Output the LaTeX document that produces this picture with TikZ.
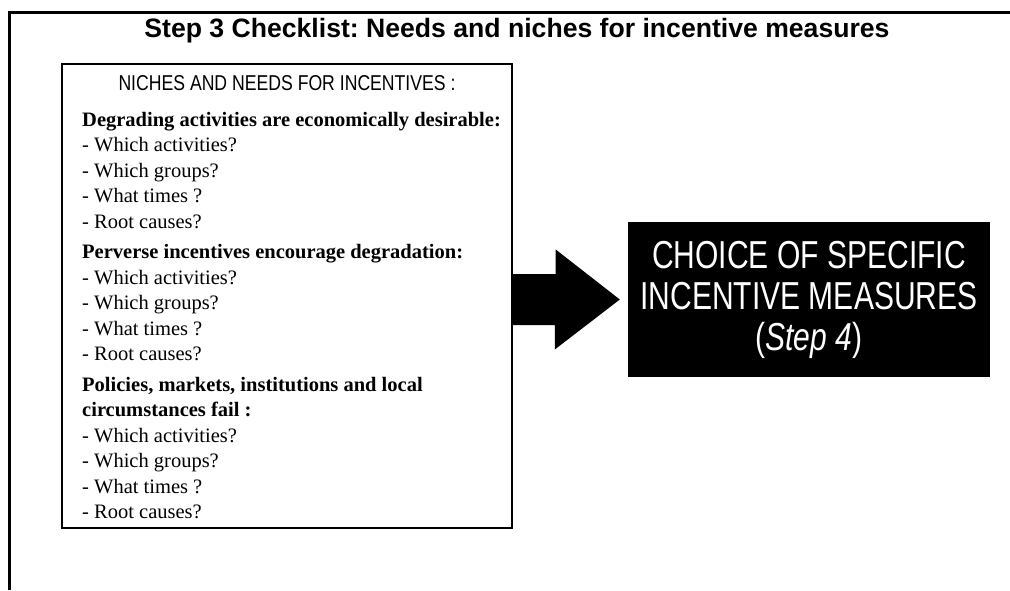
\documentclass[tikz,border=0pt]{standalone}
\usepackage{fontspec}
\setmainfont{Liberation Serif}
\newfontfamily\sansfont{Liberation Sans}
\newfontfamily\narrowfont[FakeStretch=0.82]{Liberation Sans}
\newfontfamily\tallfont[FakeStretch=0.77]{Liberation Sans}
\usetikzlibrary{positioning,calc}
\frenchspacing

\begin{document}
\begin{tikzpicture}[
    x=1pt, y=-1pt,
    heading/.style={font=\sansfont\bfseries\fontsize{26.6}{30}\selectfont, inner sep=0pt},
    listbox/.style={draw, line width=1.4pt, minimum width=450pt, minimum height=464pt,
                    inner sep=0pt},
    listhead/.style={font=\narrowfont\fontsize{21.5}{24}\selectfont, inner sep=0pt},
    listtext/.style={align=left, inner sep=0pt, font=\fontsize{20.5}{25.5}\selectfont},
    choice/.style={fill=black, text=white, align=center, minimum width=362pt,
                   minimum height=155pt, font=\tallfont\fontsize{39}{41}\selectfont}
]
\useasboundingbox (0,0) rectangle (1010,590);
\draw[line width=3pt] (9,590) -- (9,12) -- (1010,12);
\node[heading] (title) at (517,31) {Step 3 Checklist: Needs and niches for incentive measures};
\node[listbox] (box) at (287,296) {};
\node[listhead, below=12pt of box.north] (niches) {NICHES AND NEEDS FOR INCENTIVES :};
\node[listtext, anchor=north west] (needs) at (82,112)
     {\textbf{Degrading activities are economically desirable:}\\
      - Which activities?\\
      - Which groups?\\
      - What times ?\\
      - Root causes?\\[5pt]
      \textbf{Perverse incentives encourage degradation:}\\
      - Which activities?\\
      - Which groups?\\
      - What times ?\\
      - Root causes?\\[5pt]
      \textbf{Policies, markets, institutions and local}\\
      \textbf{circumstances fail :}\\
      - Which activities?\\
      - Which groups?\\
      - What times ?\\
      - Root causes?};
\node[choice] (choice) at (809,299.5) {CHOICE OF SPECIFIC\\INCENTIVE MEASURES\\(\textit{Step 4})};
\coordinate (tail) at (box.east |- choice.west);
\coordinate (tip) at ($(choice.west)+(-8,0)$);
\fill (tail) ++(0,-25.5) -- ++(43,0) -- ++(0,-24.5) -- (tip) -- ++(-65,50)
     -- ++(0,-24.5) -- ++(-43,0) -- cycle;
\end{tikzpicture}
\end{document}
